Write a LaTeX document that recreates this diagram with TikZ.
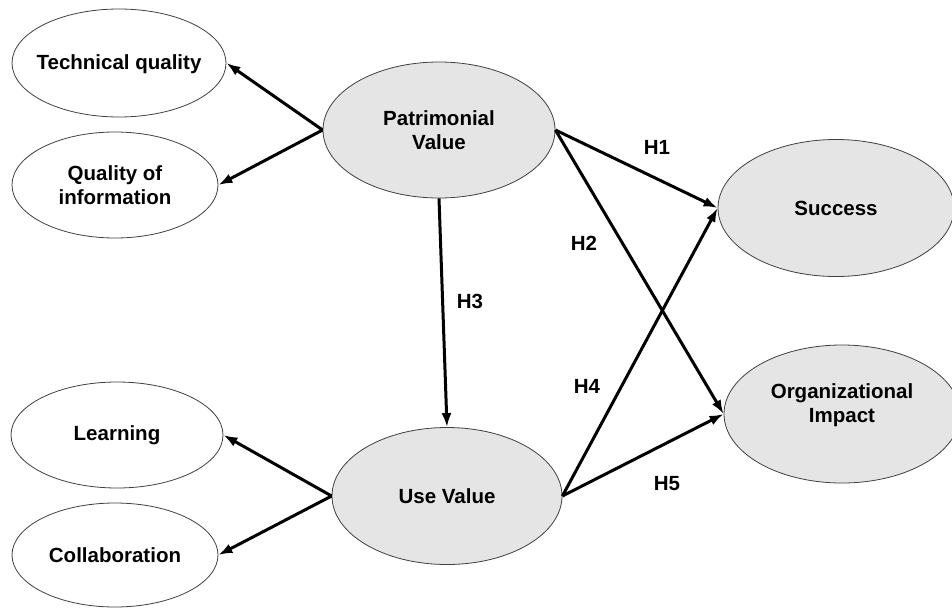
\documentclass[tikz,border=0pt]{standalone}
\usepackage{fontspec}
\setmainfont{Liberation Sans}
\usetikzlibrary{shapes.geometric,arrows.meta}
\begin{document}
\begin{tikzpicture}[x=1pt,y=-1pt,
  txt/.style={font=\fontsize{20.5}{23.5}\selectfont\bfseries,align=center},
  lat/.style={ellipse,draw=black!75,line width=0.8pt,inner sep=0pt,txt},
  endo/.style={lat,fill=black!10},
  exo/.style={lat,fill=white},
  arr/.style={line width=3pt,-{Latex[length=14pt,width=10pt]}},
  hlab/.style={txt,inner sep=0pt}]
\useasboundingbox (0,0) rectangle (952,608);
\fill[white] (0,0) rectangle (952,608);
\node[exo,minimum width=214,minimum height=108,
  label={[txt,yshift=-1pt]center:Technical quality}] (tq) at (119,63) {};
\node[exo,minimum width=206,minimum height=106] (qi) at (115,185) {Quality of\\information};
\node[endo,minimum width=232,minimum height=136] (pv) at (439,130) {Patrimonial\\Value};
\node[endo,minimum width=236,minimum height=137] (su) at (836,208) {\raisebox{-1pt}{Success}};
\node[endo,minimum width=236,minimum height=138,
  label={[txt,yshift=9pt]center:Organizational\\Impact}] (oi) at (842,414) {};
\node[exo,minimum width=212,minimum height=106] (le) at (117,435) {\raisebox{-3pt}{Learning}};
\node[exo,minimum width=206,minimum height=104] (co) at (115,555) {\raisebox{-1pt}{Collaboration}};
\node[endo,minimum width=230,minimum height=137] (uv) at (447,496) {Use Value};

\draw[arr] (pv.west) -- (tq.east);
\draw[arr] (pv.west) -- (qi.east);
\draw[arr] (uv.west) -- (le.east);
\draw[arr] (uv.west) -- (co.east);
\draw[arr] (pv.east) -- (su.west);
\draw[arr] (pv.east) -- (oi.west);
\draw[arr] (pv.south) -- (uv.north);
\draw[arr] (uv.east) -- (su.west);
\draw[arr] (uv.east) -- (oi.west);

\node[hlab] (h1) at (657,147) {H1};
\node[hlab] (h2) at (584,243) {H2};
\node[hlab] (h3) at (470,301) {H3};
\node[hlab] (h4) at (587,386) {H4};
\node[hlab] (h5) at (667,484) {H5};
\end{tikzpicture}
\end{document}
